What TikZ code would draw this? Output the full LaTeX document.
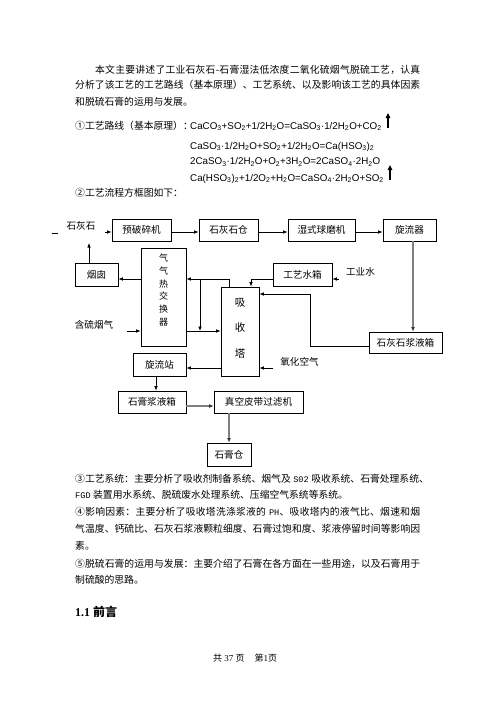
\documentclass[tikz,border=0pt]{standalone}
\usepackage{fontspec}
\setmainfont{Liberation Serif}
\newfontfamily\cjk{Noto Sans CJK SC}
\newfontfamily\fsans{Liberation Sans}
\newfontfamily\fmono{Liberation Mono}
\usetikzlibrary{arrows.meta}
\newcommand\su[1]{\textsubscript{#1}}
\newcommand\lat[1]{{\fmono\fontsize{8.6}{12}\selectfont #1}}
\def\sploop#1{\ifx\relax#1\else#1\hfil\expandafter\sploop\fi}
\newcommand\jline[2]{\hbox to #1pt{\sploop#2\relax\unskip}}
\begin{document}
\begin{tikzpicture}[x=1pt,y=-1pt,
  box/.style={draw, line width=0.75pt, inner sep=0pt, font=\cjk\fontsize{9.6}{11}\selectfont},
  lbl/.style={inner sep=0pt, font=\cjk\fontsize{9.6}{11}\selectfont},
  txt/.style={anchor=base west, inner sep=0pt, font=\cjk\fontsize{9.8}{12}\selectfont},
  frm/.style={anchor=base west, inner sep=0pt, font=\fsans\fontsize{9.8}{12}\selectfont},
  arr/.style={line width=0.7pt, -{Latex[length=4.5pt,width=3.6pt]}},
  garr/.style={draw=gray, line width=1.3pt, -{Latex[length=4.5pt,width=3.8pt,color=black!80]}},
  upar/.style={line width=1.3pt, -{Triangle[length=5pt,width=4.5pt]}}
]
\fill[white] (0,0) rectangle (496,702);
\useasboundingbox (0,0) rectangle (496,702);

% ---- opening paragraph ----
\node[txt] (p1) at (95,73.7) {\jline{325}{本文主要讲述了工业石灰石-石膏湿法低浓度二氧化硫烟气脱硫工艺，认真}};
\node[txt] (p2) at (75,88.7) {\jline{345}{分析了该工艺的工艺路线（基本原理）、工艺系统、以及影响该工艺的具体因素}};
\node[txt] (p3) at (75,105.4) {和脱硫石膏的运用与发展。};

% ---- reactions ----
\node[txt] (r0) at (75,129.6) {①工艺路线（基本原理）：};
\node[frm] (f1) at (190,129) {CaCO\su{3}+SO\su{2}+1/2H\su{2}O=CaSO\su{3}·1/2H\su{2}O+CO\su{2}};
\node[frm] (f2) at (190,149) {CaSO\su{3}·1/2H\su{2}O+SO\su{2}+1/2H\su{2}O=Ca(HSO\su{3})\su{2}};
\node[frm] (f3) at (190,164.6) {2CaSO\su{3}·1/2H\su{2}O+O\su{2}+3H\su{2}O=2CaSO\su{4}·2H\su{2}O};
\node[frm] (f4) at (190,181) {Ca(HSO\su{3})\su{2}+1/2O\su{2}+H\su{2}O=CaSO\su{4}·2H\su{2}O+SO\su{2}};
\coordinate (u1a) at (388,128); \coordinate (u1b) at (388,113);
\draw[upar] (u1a) -- (u1b);
\coordinate (u4a) at (390,180); \coordinate (u4b) at (390,165);
\draw[upar] (u4a) -- (u4b);
\node[txt] (r5) at (75,196.7) {②工艺流程方框图如下：};

% ---- flow chart boxes ----
\node[box, minimum width=59pt, minimum height=22pt] (b1) at (141.5,230) {预破碎机};
\node[box, minimum width=59pt, minimum height=22pt] (b2) at (228.5,230) {石灰石仓};
\node[box, minimum width=67pt, minimum height=22pt] (b3) at (321.5,230) {湿式球磨机};
\node[box, minimum width=53pt, minimum height=22pt] (b4) at (409.5,230) {旋流器};
\node[box, minimum width=43pt, minimum height=23pt] (yc) at (96.5,274.5) {烟囱};
\node[box, minimum width=45pt, minimum height=98pt] (hx) at (163.5,297) {};
\node[lbl, align=center, font=\cjk\fontsize{9}{12.7}\selectfont] (hxt) at (163.5,290) {气\\气\\热\\交\\换\\器};
\node[box, minimum width=59pt, minimum height=23pt] (gy) at (302.5,274.5) {工艺水箱};
\node[box, minimum width=38pt, minimum height=89pt] (xs) at (240,331.5) {};
\node[lbl, align=center, font=\cjk\fontsize{10.5}{25.5}\selectfont] (xst) at (240,328) {吸\\收\\塔};
\node[box, minimum width=73pt, minimum height=21pt] (sj) at (405.5,342.5) {石灰石浆液箱};
\node[box, minimum width=53pt, minimum height=23pt] (xl) at (159.5,364.5) {旋流站};
\node[box, minimum width=68pt, minimum height=22pt] (sg) at (152,402) {石膏浆液箱};
\node[box, minimum width=89pt, minimum height=22pt] (zk) at (258.5,402) {真空皮带过滤机};
\node[box, minimum width=44pt, minimum height=23pt] (sc) at (229,454.5) {石膏仓};

% ---- free labels ----
\node[lbl] (l1) at (81,225.5) {石灰石};
\node[lbl] (l2) at (360.5,272) {工业水};
\node[lbl] (l3) at (94,325) {含硫烟气};
\node[lbl] (l4) at (299.5,362) {氧化空气};
\coordinate (d1) at (52,233); \coordinate (d2) at (57.5,233);
\draw[line width=0.8pt] (d1) -- (d2);

% ---- connectors ----
\coordinate (s1) at (105,232);
\draw[arr] (s1) -- (b1.west |- s1);
\draw[arr] (b1.east |- s1) -- (b2.west |- s1);
\draw[arr] (b2.east |- s1) -- (b3.west |- s1);
\draw[arr] (b3.east |- s1) -- (b4.west |- s1);
\coordinate (l1up) at (89,243);
\draw[arr] (yc.north -| l1up) -- (l1up);
\coordinate (y279) at (0,279);
\draw[arr] (hx.west |- y279) -- (yc.east |- y279);
\coordinate (xa) at (229,279);
\draw[arr] (xs.north -| xa) -- (xa) -- (hx.east |- xa);
\coordinate (br) at (200,279); \coordinate (y331) at (0,331);
\draw[arr] (br) -- (br |- y331);
\draw[arr] (hx.east |- y331) -- (xs.west |- y331);
\coordinate (s3) at (127,331);
\draw[arr] (s3) -- (hx.west |- s3);
\coordinate (s2) at (339,279);
\draw[arr] (s2) -- (gy.east |- s2);
\coordinate (gw) at (251,279);
\draw[arr] (gy.west |- gw) -- (gw) -- (xs.north -| gw);
\coordinate (q1) at (310,294); \coordinate (q2) at (310,346);
\draw[arr] (sj.west |- q2) -- (q2) -- (q1) -- (xs.east |- q1);
\coordinate (gx) at (413,0);
\draw[garr] (b4.south -| gx) -- (sj.north -| gx);
\coordinate (y368) at (0,368);
\draw[arr] (xs.west |- y368) -- (xl.east |- y368);
\coordinate (s4) at (273,368);
\draw[arr] (s4) -- (xs.east |- s4);
\coordinate (vx) at (156,0);
\draw[arr] (xl.south -| vx) -- (sg.north -| vx);
\coordinate (y406) at (0,406);
\draw[garr] (sg.east |- y406) -- (zk.west |- y406);
\draw[garr] (zk.south -| sc.north) -- (sc.north);

% ---- closing paragraphs ----
\node[txt] (t1) at (75,482.7) {\jline{345}{③工艺系统：主要分析了吸收剂制备系统、烟气及{\kern2.5pt}{\lat{S02}}{\kern2.5pt}吸收系统、石膏处理系统、}};
\node[txt] (t2) at (75,498.7) {\lat{FGD}\kern2.5pt装置用水系统、脱硫废水处理系统、压缩空气系统等系统。};
\node[txt] (t3) at (75,515.4) {\jline{345}{④影响因素：主要分析了吸收塔洗涤浆液的{\kern2.5pt}{\lat{PH}}、吸收塔内的液气比、烟速和烟}};
\node[txt] (t4) at (75,532.7) {\jline{345}{气温度、钙硫比、石灰石浆液颗粒细度、石膏过饱和度、浆液停留时间等影响因}};
\node[txt] (t5) at (75,549.4) {素。};
\node[txt] (t6) at (75,567) {\jline{345}{⑤脱硫石膏的运用与发展：主要介绍了石膏在各方面在一些用途，以及石膏用于}};
\node[txt] (t7) at (75,583.2) {制硫酸的思路。};

\node[anchor=base west, inner sep=0pt, font=\fontsize{12}{14}\selectfont\bfseries] (h1) at (75,616.5) {1.1 {\cjk\bfseries 前言}};
\node[anchor=base west, inner sep=0pt, font=\fontsize{9}{11}\selectfont] (ft) at (213,661.4) {{\cjk 共} 37 {\cjk 页}\hspace{10pt}{\cjk 第}1{\cjk 页}};
\end{tikzpicture}
\end{document}
